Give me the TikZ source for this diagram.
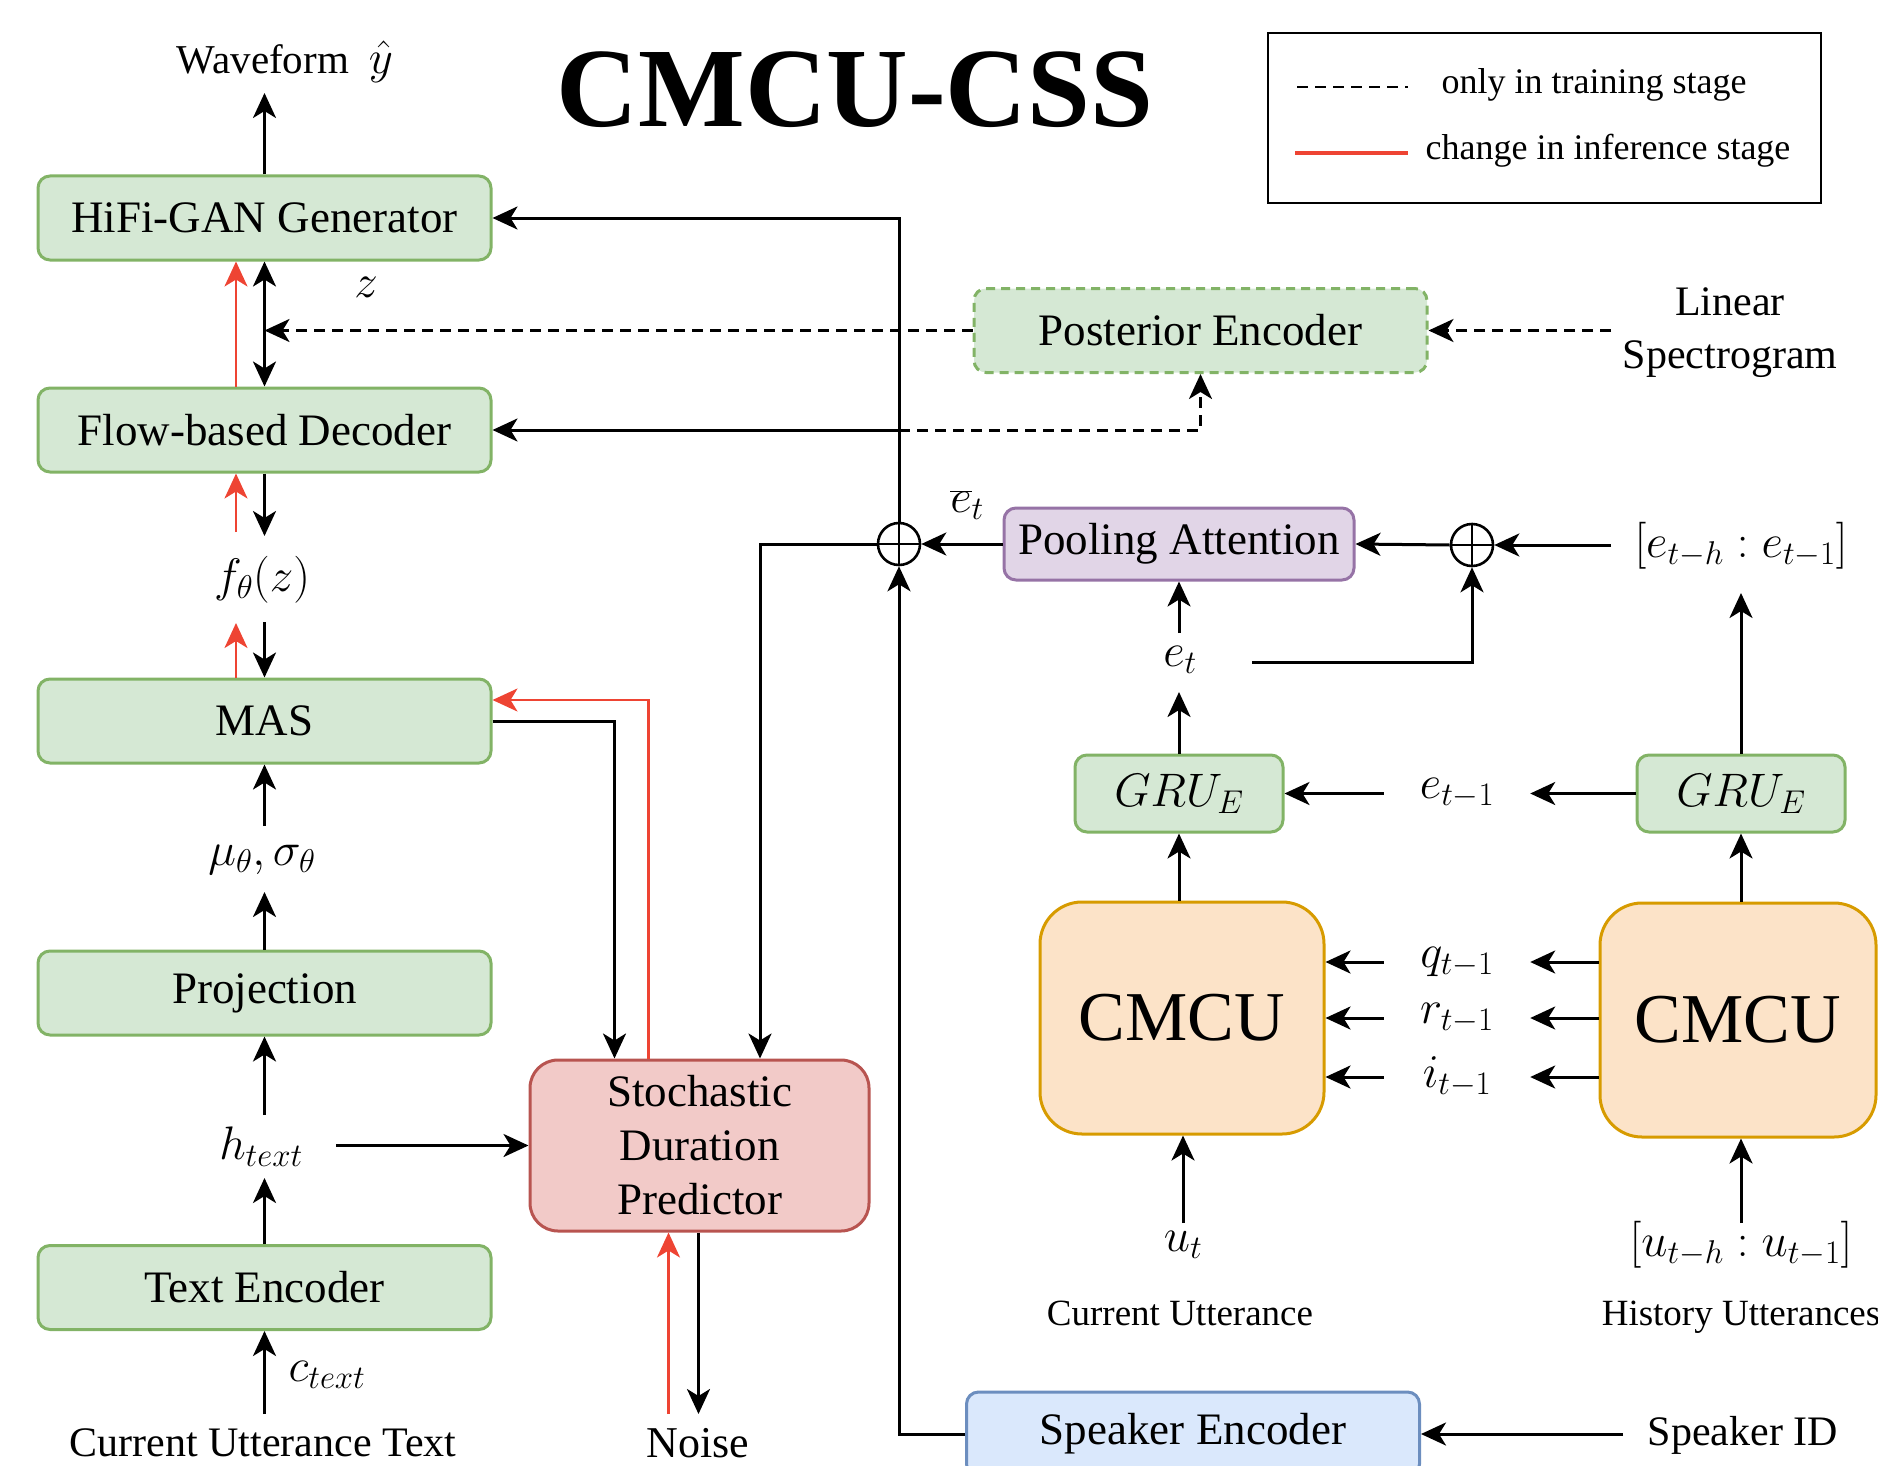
\RequirePackage{fix-cm}
\documentclass[tikz,border=0pt]{standalone}
\usepackage[no-math]{fontspec}
\setmainfont{Liberation Serif}
\usetikzlibrary{arrows.meta,calc}
\definecolor{gfill}{HTML}{D5E8D4}
\definecolor{gline}{HTML}{82B366}
\definecolor{pfill}{HTML}{E1D5E7}
\definecolor{pline}{HTML}{9673A6}
\definecolor{rfill}{HTML}{F2CAC8}
\definecolor{rbox}{HTML}{B85450}
\definecolor{bfill}{HTML}{DAE8FC}
\definecolor{bline}{HTML}{6C8EBF}
\definecolor{ofill}{HTML}{FCE3C8}
\definecolor{oline}{HTML}{D79B00}
\definecolor{rline}{HTML}{EE4433}
\newcommand\fsbox{\fontsize{45}{54}\selectfont}
\newcommand\fsmath{\fontsize{47}{56}\selectfont}
\newcommand\fswave{\fontsize{41}{50}\selectfont}
\newcommand\fscut{\fontsize{42}{50}\selectfont}
\newcommand\fsnoise{\fontsize{44}{52}\selectfont}
\newcommand\fsside{\fontsize{42}{53}\selectfont}
\newcommand\fsutt{\fontsize{37}{44}\selectfont}
\newcommand\fsleg{\fontsize{36}{42}\selectfont}
\newcommand\fscmcu{\fontsize{70}{80}\selectfont}
\newcommand\fstitle{\fontsize{113}{120}\selectfont}
\begin{document}
\begin{tikzpicture}[x=1pt,y=-1pt,
  box/.style={draw, line width=3pt, rounded corners=12pt, inner sep=0pt, align=center, font=\fsbox},
  gbox/.style={box, draw=gline, fill=gfill, minimum width=453pt, minimum height=84pt},
  tip/.tip={Stealth[length=25pt,width=23pt,inset=7pt]},
  arr/.style={line width=3pt, -tip},
  rarr/.style={line width=2.6pt, draw=rline, -tip},
  darr/.style={arr, dash pattern=on 11pt off 7pt},
  lab/.style={inner sep=0pt},
  mth/.style={inner sep=0pt, font=\fsmath},
  oplus/.style={circle, draw, line width=2.6pt, minimum size=42pt, inner sep=0pt},
  sidelab/.style={mth, minimum width=146pt}
]
\useasboundingbox (0,0) rectangle (1878,1466);

% title and legend
\node[inner sep=0pt, font=\fstitle] (title) at (855,90) {\textbf{CMCU-CSS}};
\node[draw, line width=2.8pt, minimum width=553pt, minimum height=170pt, inner sep=0pt] (leg) at (1544.5,118) {};
\coordinate (l1a) at (1297,87);
\coordinate (l1b) at (1408,87);
\draw[line width=2.8pt, dash pattern=on 11pt off 7pt] (l1a) -- (l1b);
\node[lab, font=\fsleg] (lt1) at (1594,85) {only in training stage};
\coordinate (l2a) at (1295,153);
\coordinate (l2b) at (1408,153);
\draw[rline, line width=3.6pt] (l2a) -- (l2b);
\node[lab, font=\fsleg] (lt2) at (1608,151) {change in inference stage};

% left column boxes
\node[gbox] (hifi) at (264.5,218) {HiFi-GAN Generator};
\node[gbox] (flow) at (264.5,430) {Flow-based Decoder};
\node[gbox] (mas) at (264.5,721) {MAS};
\node[gbox] (proj) at (264.5,993) {Projection};
\node[gbox] (tenc) at (264.5,1287.5) {Text Encoder};
\node[box, draw=rbox, fill=rfill, rounded corners=28pt, minimum width=339pt, minimum height=171pt] (sdp) at (699.5,1145.5) {Stochastic\\Duration\\Predictor};

% right boxes
\node[gbox, dash pattern=on 9pt off 6pt] (post) at (1200.5,330.5) {Posterior Encoder};
\node[box, draw=pline, fill=pfill, minimum width=350pt, minimum height=72pt] (pool) at (1179,544) {Pooling Attention};
\node[gbox, minimum width=208pt, minimum height=77pt, font=\fsmath] (gru1) at (1179,793.5) {$GRU_E$};
\node[gbox, minimum width=208pt, minimum height=77pt, font=\fsmath] (gru2) at (1741,793.5) {$GRU_E$};
\node[box, draw=oline, fill=ofill, rounded corners=42pt, minimum width=284pt, minimum height=232pt, font=\fscmcu] (cm1) at (1182,1018) {CMCU};
\node[box, draw=oline, fill=ofill, rounded corners=42pt, minimum width=276pt, minimum height=234pt, font=\fscmcu] (cm2) at (1738,1020) {CMCU};
\node[box, draw=bline, fill=bfill, minimum width=453pt, minimum height=84pt] (spk) at (1193,1434) {Speaker Encoder};

\node[oplus] (opl) at (899,544) {};
\draw[line width=2.6pt] (opl.north) -- (opl.south) (opl.west) -- (opl.east);
\node[oplus] (opr) at (1472,545) {};
\draw[line width=2.6pt] (opr.north) -- (opr.south) (opr.west) -- (opr.east);

% left column connectors
\node[lab, font=\fswave] (wave) at (285,62) {Waveform\hspace{20pt}{\fsmath$\hat{y}$}};
\coordinate (waveIn) at (264.5,93);
\draw[arr] (hifi.north) -- (waveIn);

\node[mth] (zl) at (366,287) {$z$};
\draw[line width=3pt, tip-tip] (hifi.south) -- (flow.north);
\draw[rarr] ([xshift=-28.5pt]flow.north) -- ([xshift=-28.5pt]hifi.south);
\draw[darr] (post.west) -- (post.west -| hifi.south);

\node[mth] (fz) at (262,580) {$f_\theta(z)$};
\coordinate (fzA) at (264.5,536);
\coordinate (fzB) at (236,532);
\draw[arr] (flow.south) -- (fzA);
\draw[rarr] (fzB) -- (fzB |- flow.south);
\coordinate (fzC) at (264.5,622);
\coordinate (fzD) at (236,623);
\draw[arr] (fzC) -- (fzC |- mas.north);
\draw[rarr] (fzD |- mas.north) -- (fzD);

\node[mth] (mu) at (262,860) {$\mu_\theta,\sigma_\theta$};
\coordinate (muT) at (264.5,826);
\coordinate (muB) at (264.5,892);
\draw[arr] (muT) -- (mas.south);
\draw[arr] (proj.north) -- (muB);

\node[mth] (ht) at (261,1147) {$h_{text}$};
\coordinate (htT) at (264.5,1115);
\coordinate (htB) at (264.5,1178);
\coordinate (htR) at (336,1145.5);
\draw[arr] (htT) -- (proj.south);
\draw[arr] (tenc.north) -- (htB);
\draw[arr] (htR) -- (sdp.west);

\node[mth] (ct) at (327,1375) {$c_{text}$};
\coordinate (ctB) at (264.5,1414);
\draw[arr] (ctB) -- (tenc.south);
\node[lab, font=\fscut] (cut) at (263,1443) {Current Utterance Text};

\node[lab, font=\fsnoise] (noise) at (698,1443) {Noise};
\coordinate (nzR) at (668.5,1414);
\coordinate (nzB) at (698.5,1414);
\draw[rarr] (nzR) -- (nzR |- sdp.south);
\draw[arr] (nzB |- sdp.south) -- (nzB);

% MAS / SDP
\draw[arr] (mas.east) -| ([xshift=-85pt]sdp.north);
\draw[rarr] ([xshift=-51pt]sdp.north) |- ([yshift=21pt]mas.east);
\draw[arr] (opl.west) -| ([xshift=60.5pt]sdp.north);

% bus
\draw[arr] (opl.north) |- (hifi.east);
\draw[arr] (opl.north |- flow.east) -- (flow.east);
\draw[darr] (opl.north |- flow.east) -| (post.south);
\draw[arr] (spk.west) -| (opl.south);
\draw[arr] (pool.west) -- (opl.east);
\node[mth] (ebar) at (967,505) {$\overline{e}_t$};

% right side
\draw[arr] (opr.west) -- (pool.east);
\node[mth] (eh) at (1741,546) {$[e_{t-h}:e_{t-1}]$};
\coordinate (ehIn) at (1611,545);
\draw[arr] (ehIn) -- (opr.east);
\node[mth] (et) at (1180,660) {$e_t$};
\coordinate (etT) at (1179,633);
\coordinate (etR) at (1252,662);
\draw[arr] (etT) -- (pool.south);
\draw[arr] (etR) -| (opr.south);
\coordinate (etB) at (1179,692);
\draw[arr] (gru1.north) -- (etB);
\node[sidelab] (em1) at (1457,793.5) {$e_{t-1}$};
\draw[arr] (em1.west) -- (em1.west -| gru1.east);
\draw[arr] (gru2.west) -- (em1.east);
\coordinate (ehB) at (1741,593);
\draw[arr] (gru2.north) -- (ehB);

\draw[arr] (gru1.south |- cm1.north) -- (gru1.south);
\draw[arr] (gru2.south |- cm2.north) -- (gru2.south);

\node[sidelab] (q) at (1457,962) {$q_{t-1}$};
\node[sidelab] (r) at (1457,1018) {$r_{t-1}$};
\node[sidelab] (i) at (1457,1077) {$i_{t-1}$};
\foreach \n in {q,r,i}{
  \draw[arr] (\n.west) -- (\n.west -| cm1.east);
  \draw[arr] (\n.east -| cm2.west) -- (\n.east);
}

\node[mth] (ut) at (1183,1245) {$u_t$};
\coordinate (utT) at (1183,1223);
\draw[arr] (utT) -- (utT |- cm1.south);
\node[mth] (uh) at (1741,1245) {$[u_{t-h}:u_{t-1}]$};
\coordinate (uhT) at (1741,1223);
\draw[arr] (uhT) -- (uhT |- cm2.south);
\node[lab, font=\fsutt] (cu) at (1180,1313) {Current Utterance};
\node[lab, font=\fsutt] (hu) at (1741,1317) {History Utterances};

\node[lab, font=\fsside] (sid) at (1743,1435) {Speaker ID};
\coordinate (sidW) at (1623,1434);
\draw[arr] (sidW) -- (spk.east);

\node[lab, font=\fsside, align=center] (lin) at (1730,333) {Linear\\Spectrogram};
\coordinate (linW) at (1611,330.5);
\draw[darr] (linW) -- (post.east);
\end{tikzpicture}
\end{document}
